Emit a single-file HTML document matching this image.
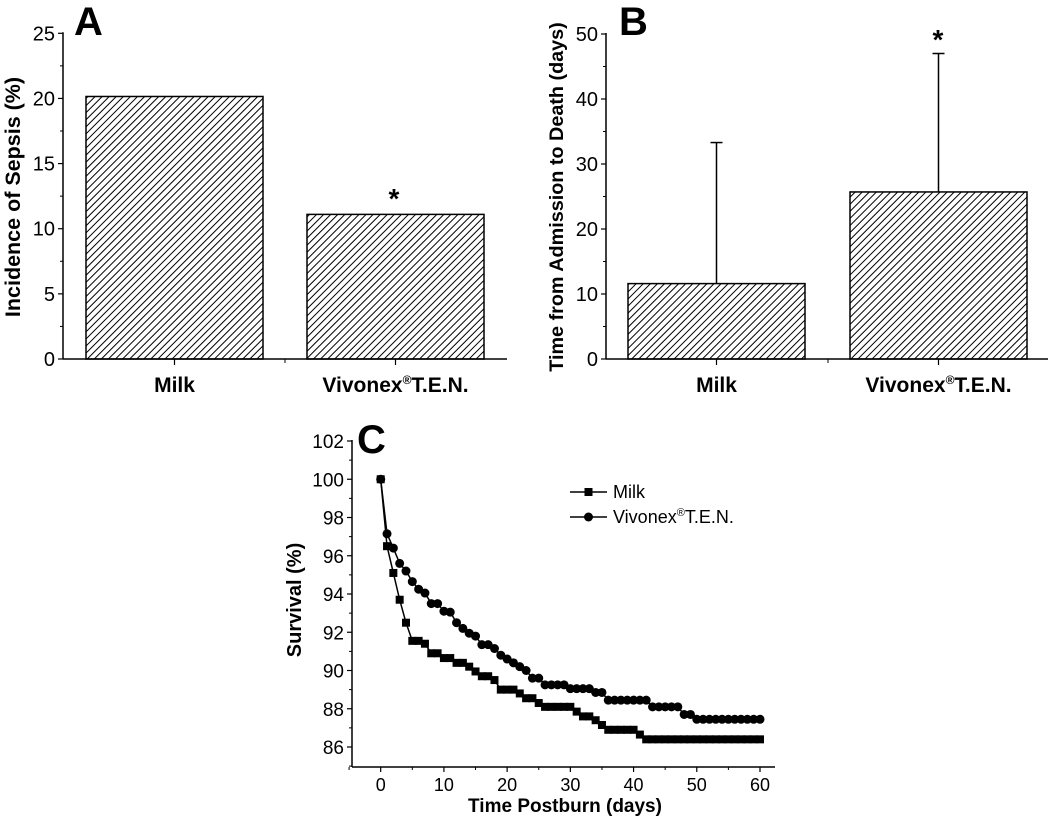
<!DOCTYPE html>
<html><head><meta charset="utf-8"><style>
body{margin:0;background:#fff}
svg{display:block;font-family:"Liberation Sans",Arial,sans-serif}
</style></head><body>
<svg id="fig" width="1050" height="825" viewBox="0 0 1050 825" xmlns="http://www.w3.org/2000/svg">
<defs>
<pattern id="hatch" patternUnits="userSpaceOnUse" width="5" height="5" patternTransform="rotate(45)">
<rect width="5" height="5" fill="#fff"/><line x1="0" y1="0" x2="0" y2="5" stroke="#000" stroke-width="2"/>
</pattern>
</defs>
<g id="root"></g>
</svg>
<script>
// Panel A data
const catsA = ["Milk", "Vivonex®T.E.N."];
const sepsis = [20.15, 11.1];
const ticksA = [0, 5, 10, 15, 20, 25];
// Panel B data
const catsB = ["Milk", "Vivonex®T.E.N."];
const deathDays = [11.6, 25.7];
const deathErr = [21.7, 21.3];
const ticksB = [0, 10, 20, 30, 40, 50];
// Panel C data
const days = [0,1,2,3,4,5,6,7,8,9,10,11,12,13,14,15,16,17,18,19,20,21,22,23,24,25,26,27,28,29,30,31,32,33,34,35,36,37,38,39,40,41,42,43,44,45,46,47,48,49,50,51,52,53,54,55,56,57,58,59,60];
const milkSurv = [100,96.5,95.1,93.7,92.5,91.55,91.55,91.4,90.9,90.9,90.65,90.65,90.4,90.4,90.2,89.95,89.7,89.7,89.5,89.0,89.0,89.0,88.8,88.55,88.55,88.3,88.1,88.1,88.1,88.1,88.1,87.85,87.6,87.6,87.4,87.15,86.9,86.9,86.9,86.9,86.9,86.65,86.4,86.4,86.4,86.4,86.4,86.4,86.4,86.4,86.4,86.4,86.4,86.4,86.4,86.4,86.4,86.4,86.4,86.4,86.4];
const vivSurv = [100,97.15,96.4,95.6,95.2,94.65,94.25,94.05,93.5,93.5,93.1,93.05,92.5,92.2,91.95,91.8,91.35,91.35,91.15,90.8,90.6,90.4,90.2,90.0,89.6,89.6,89.25,89.25,89.25,89.25,89.05,89.05,89.05,89.05,88.85,88.85,88.45,88.45,88.45,88.45,88.45,88.45,88.45,88.1,88.1,88.1,88.1,88.1,87.7,87.7,87.45,87.45,87.45,87.45,87.45,87.45,87.45,87.45,87.45,87.45,87.45];
const ticksCx = [0,10,20,30,40,50,60];
const ticksCy = [86,88,90,92,94,96,98,100,102];

const NS="http://www.w3.org/2000/svg";
const root=document.getElementById('root');
function mk(tag,attrs,parent,txt){const e=document.createElementNS(NS,tag);for(const k in attrs)e.setAttribute(k,attrs[k]);if(txt!==undefined)e.textContent=txt;(parent||root).appendChild(e);return e;}

function barPanel(o){
  const g=mk('g',{});
  
  
  const y=v=>o.y0-(v-0)/o.max*(o.y0-o.yTop);
  o.vals.forEach((v,i)=>{
    const r=mk('rect',{x:o.bx[i],y:y(v),width:o.bw,height:o.y0-y(v),fill:'url(#hatch)',stroke:'#000','stroke-width':1.5},g);
    
    
    if(o.err){
      const cx=o.bx[i]+o.bw/2;
      const l=mk('line',{x1:cx,x2:cx,y1:y(v),y2:y(v+o.err[i]),stroke:'#000','stroke-width':1.5},g);
      
      
      mk('line',{x1:cx-6,x2:cx+6,y1:y(v+o.err[i]),y2:y(v+o.err[i]),stroke:'#000','stroke-width':1.5},g);
    }
  });
  mk('line',{x1:o.ax,x2:o.ax,y1:o.yTop-1,y2:o.y0,stroke:'#000','stroke-width':1.5},g);
  mk('line',{x1:o.ax,x2:o.axEnd,y1:o.y0,y2:o.y0,stroke:'#000','stroke-width':1.5},g);
  o.ticks.forEach((t,i)=>{
    mk('line',{x1:o.ax-5,x2:o.ax,y1:y(t),y2:y(t),stroke:'#000','stroke-width':1.2},g);
    if(i<o.ticks.length-1){const m=(t+o.ticks[i+1])/2;mk('line',{x1:o.ax-3,x2:o.ax,y1:y(m),y2:y(m),stroke:'#000','stroke-width':1},g);}
    const tl=mk('text',{x:o.ax-8,y:y(t)+7,'text-anchor':'end','font-size':20},g,String(t));
    
    
  });
  o.cats.forEach((c,i)=>{
    const cx=o.bx[i]+o.bw/2;
    mk('line',{x1:cx,x2:cx,y1:o.y0,y2:o.y0+6,stroke:'#000','stroke-width':1.2},g);
    const t=mk('text',{x:cx,y:o.y0+33,'text-anchor':'middle','font-size':21,'font-weight':'bold'},g);
    
    
    if(c.indexOf('®')>=0){t.textContent='Vivonex';mk('tspan',{'font-size':12,dy:-8},t,'®');mk('tspan',{dy:8},t,'T.E.N.');}
    else t.textContent=c;
  });
  mk('line',{x1:o.midTick,x2:o.midTick,y1:o.y0,y2:o.y0+4,stroke:'#000','stroke-width':1},g);
  const st=mk('text',{x:o.star[0],y:o.star[1],'text-anchor':'middle','font-size':28,'font-weight':'bold'},g,'*');
  
  
  const yt=mk('text',{transform:`translate(${o.titleX},${o.titleY}) rotate(-90)`,'text-anchor':'middle','font-size':o.titleSize,'font-weight':'bold'},g,o.title);
  
  
  const pl=mk('text',{x:o.letter[0],y:o.letter[1],'font-size':40,'font-weight':'bold'},g,o.L);
  
  
}

barPanel({name:'panel-a-sepsis-chart',vals:sepsis,cats:catsA,ticks:ticksA,max:25,y0:359,yTop:33.3,ax:63,axEnd:507,bx:[86,307],bw:177,midTick:285,star:[394,208],title:'Incidence of Sepsis (%)',titleX:20,titleY:197,titleSize:21.5,L:'A',letter:[74,35]});
barPanel({name:'panel-b-time-to-death-chart',vals:deathDays,err:deathErr,cats:catsB,ticks:ticksB,max:50,y0:359,yTop:34,ax:606,axEnd:1048,bx:[628,850],bw:177,midTick:828,star:[938,49],title:'Time from Admission to Death (days)',titleX:563,titleY:197,titleSize:19.8,L:'B',letter:[619,35]});

(function(){
  const g=mk('g',{});
  
  
  const X=d=>380.7+d*(760-380.7)/60;
  const Y=v=>441+(102-v)*19.125;
  const axL=352, axB=767;
  mk('line',{x1:axL,x2:axL,y1:440,y2:axB,stroke:'#000','stroke-width':1.5},g);
  mk('line',{x1:axL,x2:775,y1:axB,y2:axB,stroke:'#000','stroke-width':1.5},g);
  ticksCy.forEach((t,i)=>{
    mk('line',{x1:axL-5,x2:axL,y1:Y(t),y2:Y(t),stroke:'#000','stroke-width':1.2},g);
    if(i<ticksCy.length-1) mk('line',{x1:axL-3,x2:axL,y1:Y(t+1),y2:Y(t+1),stroke:'#000','stroke-width':1},g);
    const tl=mk('text',{x:axL-8,y:Y(t)+7,'text-anchor':'end','font-size':19},g,String(t));
    
    
  });
  mk('line',{x1:axL-3,x2:axL,y1:Y(85),y2:Y(85),stroke:'#000','stroke-width':1},g);
  ticksCx.forEach((t,i)=>{
    mk('line',{x1:X(t),x2:X(t),y1:axB,y2:axB+5,stroke:'#000','stroke-width':1.2},g);
    if(i<ticksCx.length-1) mk('line',{x1:X(t+5),x2:X(t+5),y1:axB,y2:axB+3,stroke:'#000','stroke-width':1},g);
    const tl=mk('text',{x:X(t),y:axB+24,'text-anchor':'middle','font-size':18},g,String(t));
    
    
  });
  mk('line',{x1:X(-5),x2:X(-5),y1:axB,y2:axB+3,stroke:'#000','stroke-width':1},g);
  function series(vals,name,marker){
    const sg=mk('g',{},g);
    
    
    const pts=vals.map((v,i)=>X(days[i])+','+Y(v)).join(' ');
    mk('polyline',{points:pts,fill:'none',stroke:'#000','stroke-width':1.5},sg);
    vals.forEach((v,i)=>{
      let m;
      if(marker==='sq') m=mk('rect',{x:X(days[i])-4,y:Y(v)-4,width:8,height:8,fill:'#000'},sg);
      else m=mk('circle',{cx:X(days[i]),cy:Y(v),r:4.5,fill:'#000'},sg);
      
      
    });
  }
  series(milkSurv,'milk-series','sq');
  series(vivSurv,'vivonex-series','ci');
  const lg=mk('g',{},g);
  
  
  mk('line',{x1:570,x2:607,y1:492,y2:492,stroke:'#000','stroke-width':1.5},lg);
  mk('rect',{x:584.5,y:488,width:8,height:8,fill:'#000'},lg);
  const t1=mk('text',{x:613,y:498,'font-size':18},lg,'Milk');
  
  
  mk('line',{x1:570,x2:607,y1:517,y2:517,stroke:'#000','stroke-width':1.5},lg);
  mk('circle',{cx:588.5,cy:517,r:4.5,fill:'#000'},lg);
  const t2=mk('text',{x:613,y:523,'font-size':18},lg,'Vivonex');
  mk('tspan',{'font-size':11,dy:-7},t2,'®');mk('tspan',{dy:7},t2,'T.E.N.');
  
  
  const xt=mk('text',{x:565,y:812,'text-anchor':'middle','font-size':19,'font-weight':'bold'},g,'Time Postburn (days)');
  
  
  const yt=mk('text',{transform:'translate(301,600) rotate(-90)','text-anchor':'middle','font-size':20,'font-weight':'bold'},g,'Survival (%)');
  
  
  const pl=mk('text',{x:357,y:453,'font-size':40,'font-weight':'bold'},g,'C');
  
  
})();
</script>
</body></html>
